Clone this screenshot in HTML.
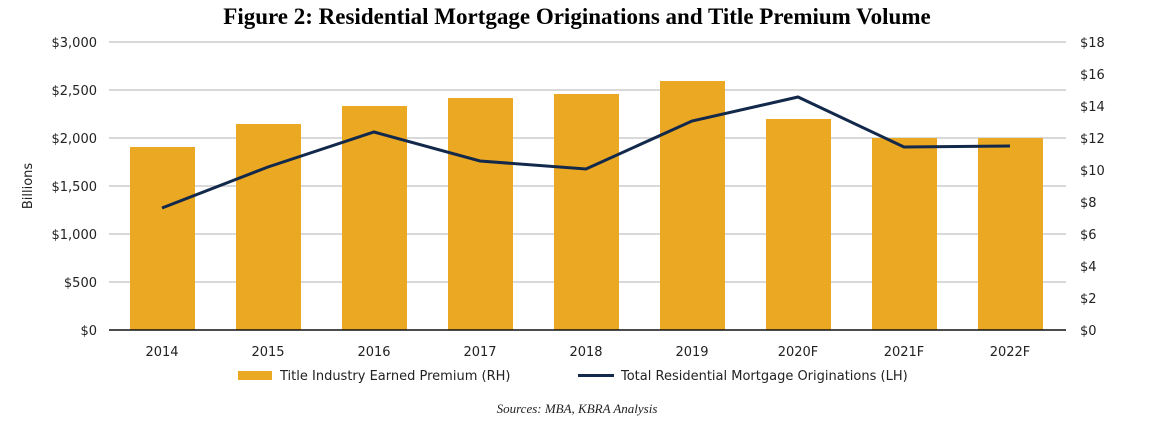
<!DOCTYPE html>
<html><head><style>
body{margin:0;background:#fff;}
svg text{font-family:"DejaVu Sans",Verdana,sans-serif;font-size:13px;fill:#222;}
</style></head><body>
<svg width="1154" height="426" xmlns="http://www.w3.org/2000/svg">
<text x="577" y="24" text-anchor="middle" style="font-family:'Liberation Serif',serif;font-weight:bold;font-size:23px;fill:#000">Figure 2: Residential Mortgage Originations and Title Premium Volume</text>
<g stroke="#d9d9d9" stroke-width="2">
<line x1="109" x2="1066" y1="42" y2="42"/><line x1="109" x2="1066" y1="90" y2="90"/>
<line x1="109" x2="1066" y1="138" y2="138"/><line x1="109" x2="1066" y1="186" y2="186"/>
<line x1="109" x2="1066" y1="234" y2="234"/><line x1="109" x2="1066" y1="282" y2="282"/>
</g>
<g fill="#eba822">
<rect x="130" y="147" width="65" height="183"/>
<rect x="236" y="124" width="65" height="206"/>
<rect x="342" y="106" width="65" height="224"/>
<rect x="448" y="98" width="65" height="232"/>
<rect x="554" y="94" width="65" height="236"/>
<rect x="660" y="81" width="65" height="249"/>
<rect x="766" y="119" width="65" height="211"/>
<rect x="872" y="138" width="65" height="192"/>
<rect x="978" y="138" width="65" height="192"/>
</g>
<line x1="109" x2="1066" y1="330" y2="330" stroke="#111" stroke-width="1.5"/>
<polyline fill="none" stroke="#13294b" stroke-width="3" points="162,208 268,167 374,132 480,161 586,169 692,121 798,97 904,147 1010,146"/>
<g text-anchor="end">
<text x="97" y="47">$3,000</text><text x="97" y="95">$2,500</text><text x="97" y="143">$2,000</text>
<text x="97" y="191">$1,500</text><text x="97" y="239">$1,000</text><text x="97" y="287">$500</text><text x="97" y="335">$0</text>
</g>
<g>
<text x="1080" y="47">$18</text><text x="1080" y="79">$16</text><text x="1080" y="111">$14</text>
<text x="1080" y="143">$12</text><text x="1080" y="175">$10</text><text x="1080" y="207">$8</text>
<text x="1080" y="239">$6</text><text x="1080" y="271">$4</text><text x="1080" y="303">$2</text><text x="1080" y="335">$0</text>
</g>
<text transform="translate(32,186) rotate(-90)" text-anchor="middle">Billions</text>
<g text-anchor="middle">
<text x="162" y="356">2014</text><text x="268" y="356">2015</text><text x="374" y="356">2016</text>
<text x="480" y="356">2017</text><text x="586" y="356">2018</text><text x="692" y="356">2019</text>
<text x="798" y="356">2020F</text><text x="904" y="356">2021F</text><text x="1010" y="356">2022F</text>
</g>
<rect x="238" y="371" width="34" height="9" fill="#eba822"/>
<text x="280" y="380">Title Industry Earned Premium (RH)</text>
<line x1="578" x2="614" y1="375.5" y2="375.5" stroke="#13294b" stroke-width="3"/>
<text x="621" y="380">Total Residential Mortgage Originations (LH)</text>
<text x="577" y="413" text-anchor="middle" style="font-family:'Liberation Serif',serif;font-style:italic;font-size:13px">Sources: MBA, KBRA Analysis</text>
</svg>
</body></html>
